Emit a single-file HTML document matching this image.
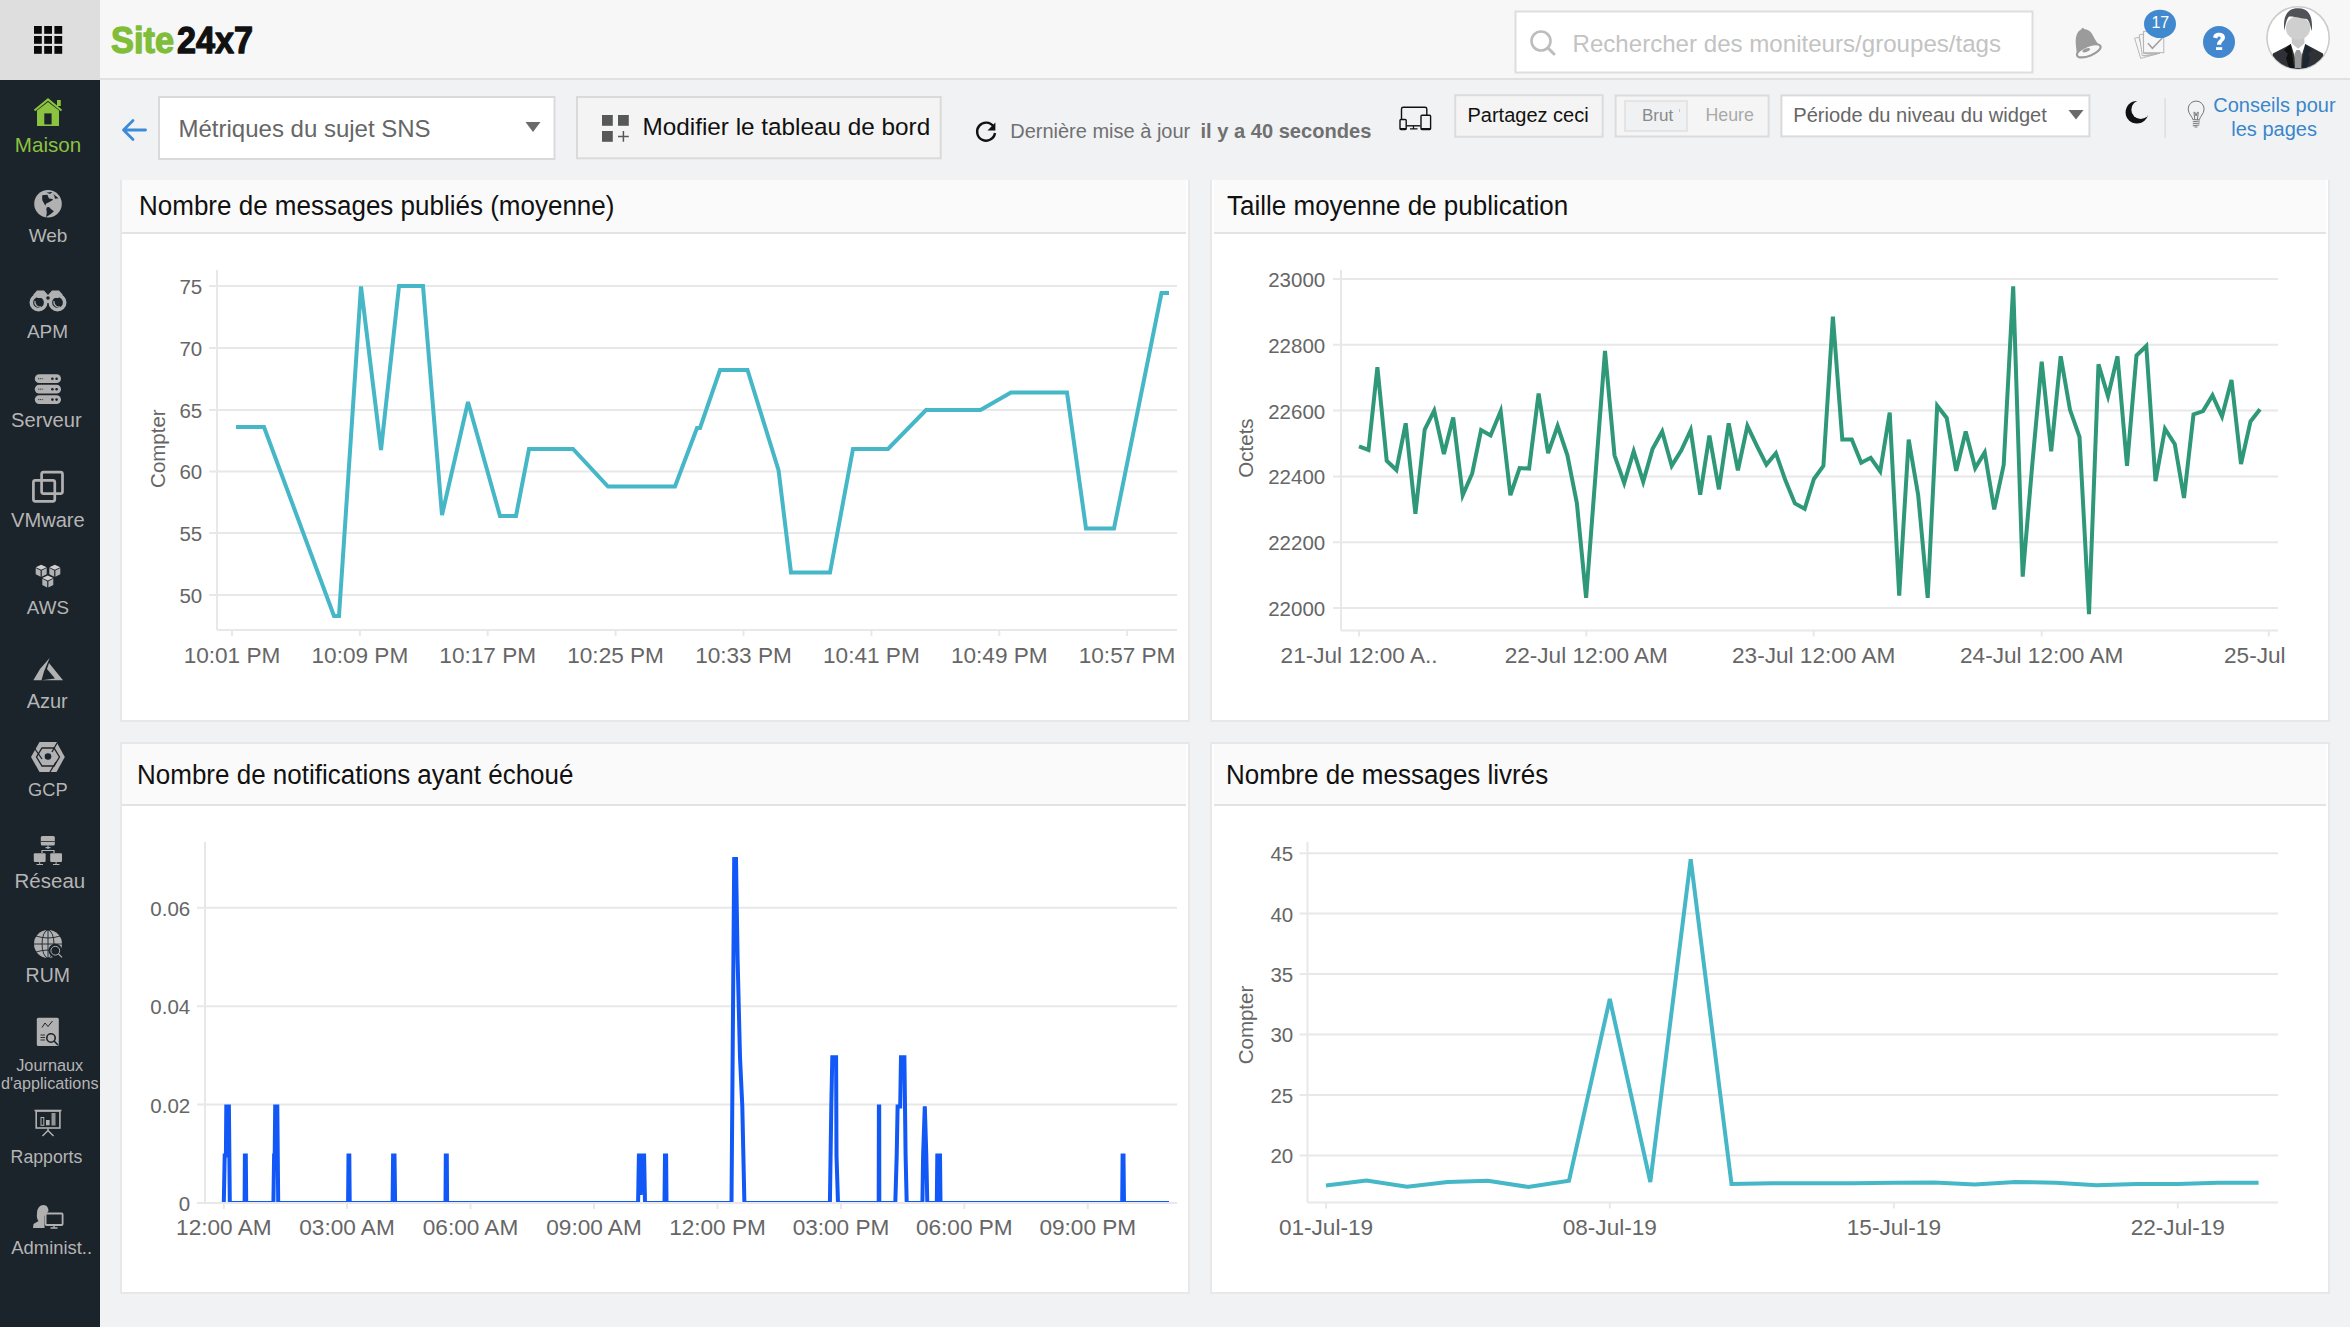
<!DOCTYPE html>
<html><head><meta charset="utf-8">
<style>
*{box-sizing:border-box;margin:0;padding:0}
html,body{width:2350px;height:1327px;overflow:hidden;background:#f1f2f4;font-family:"Liberation Sans", sans-serif}
.a{position:absolute}
.top{left:0;top:0;width:2350px;height:80px;background:#f7f7f7;border-bottom:2px solid #e2e2e2}
.gridbox{left:0;top:0;width:100px;height:80px;background:#dedede;border-bottom:2px solid #dedede}
.side{left:0;top:80px;width:100px;height:1247px;background:#1c242c}
.card{background:#fff;border:2px solid #e8e8e8}
.hdr{background:#fafafa;border-bottom:2px solid #e3e3e3}
.ttl{font-size:26px;transform:scaleY(1.035);transform-origin:0 0;color:#111;white-space:nowrap}
.sl{color:#b4b4b4;font-size:19.5px;text-align:center;width:100px;left:0;white-space:nowrap}
.btn{border:2px solid #dcdcdc}
</style></head><body>
<svg class="a" style="left:0;top:0" width="2350" height="1327" font-family='"Liberation Sans", sans-serif'>
<rect x="0" y="0" width="2350" height="78" fill="#f7f7f7"/>
<rect x="0" y="78" width="2350" height="2" fill="#e1e1e1"/>
<rect x="0" y="0" width="100" height="80" fill="#dedede"/>
<rect x="34.0" y="26.0" width="7.8" height="7.8" fill="#0a0a0a"/>
<rect x="34.0" y="36.0" width="7.8" height="7.8" fill="#0a0a0a"/>
<rect x="34.0" y="46.0" width="7.8" height="7.8" fill="#0a0a0a"/>
<rect x="44.2" y="26.0" width="7.8" height="7.8" fill="#0a0a0a"/>
<rect x="44.2" y="36.0" width="7.8" height="7.8" fill="#0a0a0a"/>
<rect x="44.2" y="46.0" width="7.8" height="7.8" fill="#0a0a0a"/>
<rect x="54.4" y="26.0" width="7.8" height="7.8" fill="#0a0a0a"/>
<rect x="54.4" y="36.0" width="7.8" height="7.8" fill="#0a0a0a"/>
<rect x="54.4" y="46.0" width="7.8" height="7.8" fill="#0a0a0a"/>
<text x="111" y="53" font-size="36" font-weight="700" fill="#80bd39" stroke="#80bd39" stroke-width="1.3" stroke-linejoin="round" textLength="63" lengthAdjust="spacingAndGlyphs">Site</text>
<text x="177" y="53" font-size="36" font-weight="700" fill="#111" stroke="#111" stroke-width="1.3" stroke-linejoin="round" textLength="76" lengthAdjust="spacingAndGlyphs">24x7</text>
<rect x="1515.5" y="11.5" width="517" height="61" fill="#fff" stroke="#dedede" stroke-width="2"/>
<circle cx="1541" cy="41" r="9.5" fill="none" stroke="#bdbdbd" stroke-width="2.6"/>
<line x1="1548" y1="48" x2="1554" y2="54" stroke="#bdbdbd" stroke-width="3" stroke-linecap="round"/>
<text x="1572.5" y="52.4" font-size="24.1" fill="#c3c3c3" text-anchor="start" >Rechercher des moniteurs/groupes/tags</text>
<path d="M2077,54.5 C2076.2,47 2075,41 2076.2,36.5 C2077.3,32 2079.5,29.8 2081.6,29.2 L2082,27.8 L2083.6,28.3 L2084.2,29 C2087,29.3 2089.8,30.5 2091.8,33.5 C2094,37 2095.5,41 2098.2,44 L2101.5,46 Z" fill="#9b9b9b"/>
<ellipse cx="2088.8" cy="50.8" rx="12.6" ry="5" transform="rotate(-22 2088.8 50.8)" fill="#f7f7f7" stroke="#9b9b9b" stroke-width="2.1"/>
<ellipse cx="2086.3" cy="50.2" rx="4" ry="1.7" transform="rotate(-22 2086.3 50.2)" fill="#9b9b9b"/>
<g fill="#f7f7f7" stroke="#b0b0b0" stroke-width="0.9"><path d="M2134.6,38.2 L2138.8,37.3 L2144,56 L2157,54 L2140.7,58.4 Z"/><path d="M2139.3,34.8 L2143.2,34 L2143.6,53.5 L2160,53.4 L2142.3,55.8 Z"/><rect x="2143.6" y="31.3" width="20.2" height="21.4"/></g>
<path d="M2148,43.2 L2152.4,48.3 L2162.2,38" fill="none" stroke="#a0a0a0" stroke-width="1.5"/>
<ellipse cx="2160" cy="23.9" rx="16" ry="14.2" fill="#4189cf"/>
<text x="2160.3" y="28" font-size="16" fill="#fff" text-anchor="middle" >17</text>
<circle cx="2219" cy="42" r="16" fill="#4388cf"/>
<path d="M2213.2,37.5 C2213.2,34.5 2215.5,32.8 2219,32.8 C2222.6,32.8 2225,34.8 2225,37.6 C2225,40.8 2221.5,41.3 2221.2,44.8 L2217,44.8 C2217,40.5 2220.6,39.8 2220.6,38 C2220.6,37 2220,36.5 2219,36.5 C2218,36.5 2217.4,37.2 2217.4,38.5 Z" fill="#fff"/>
<rect x="2216" y="47.2" width="6.2" height="2.8" fill="#fff"/>
<clipPath id="avc"><circle cx="2298.1" cy="37.9" r="31"/></clipPath>
<circle cx="2298.1" cy="37.9" r="31.1" fill="#fff" stroke="#cccccc" stroke-width="1.6"/>
<g clip-path="url(#avc)"><path d="M2272.9,53.6 L2290.9,44.1 L2298.1,49 L2305.2,44.1 L2323,53.6 L2326,72 L2270,72 Z" fill="#2e3236"/><path d="M2284,50 L2290.9,44.1 L2294,68 L2289,68 L2286,58 L2288,54 Z" fill="#111"/><path d="M2312,50 L2305.2,44.1 L2302,68 L2307,68 L2310,58 L2308,54 Z" fill="#1c2630"/><path d="M2290.9,44.1 L2305.2,44.1 L2298.1,67.6 Z" fill="#fff"/><path d="M2291.8,37 L2304.4,37 L2304.4,43.5 L2298.1,48.7 L2291.8,43.5 Z" fill="#c6c6c6"/><path d="M2296.5,50.1 L2299.7,50.1 L2301.8,54 L2301.2,68 L2295,68 L2294.4,54 Z" fill="#999"/><ellipse cx="2298" cy="28" rx="12.2" ry="11.8" fill="#cfcfcf"/><path d="M2284.3,30.5 C2283,20 2285,8.3 2298,8.3 C2310,8.3 2313,18 2311.8,31 C2310.5,27 2310,22 2307,19 C2302,19 2297,16.5 2289,16.6 C2286.5,19 2285.5,25 2284.3,30.5 Z" fill="#4f5358"/></g>
<rect x="0" y="80" width="100" height="1247" fill="#1b232b"/>
<path d="M34.5,110.5 L48,99.5 L61.5,110.5" fill="none" stroke="#8bc23f" stroke-width="2.2"/>
<path d="M37,110.5 L48,102 L59,110.5 L59,126 L37,126 Z" fill="#8bc23f"/>
<rect x="44.3" y="113.4" width="7.3" height="11" fill="#1b232b"/>
<rect x="57" y="100" width="3.8" height="6" fill="#8bc23f"/>
<text x="48" y="152.4" font-size="20.6" fill="#8bc23f" text-anchor="middle" >Maison</text>
<circle cx="48" cy="203.8" r="13.8" fill="#b1b1b1"/>
<path d="M42.2,195.2 L47.4,194.8 L49,198.5 L52.5,199 L52.8,200.1 L49,202.3 L46.3,203.4 L45.4,205 L46.5,206.2 L44.9,204.9 L44.1,203.4 L42.2,200.1 Z M53.3,194.1 L58.5,198.2 L55,198.8 L54.4,196.3 Z M46.8,207.2 L49,206.9 L51.2,209.3 L53.9,211.2 L51.2,213.7 L46.6,216.8 L46,217.8 L46.8,212.6 L46.3,209.1 Z M46.5,192.5 L52.5,192 L50,194 Z" fill="#1b232b"/>
<text x="48" y="241.8" font-size="19" fill="#b5b5b5" text-anchor="middle" >Web</text>
<g fill="none" stroke="#b1b1b1"><circle cx="38.5" cy="302.5" r="7.2" stroke-width="3.6"/><circle cx="57.5" cy="302.5" r="7.2" stroke-width="3.6"/></g>
<path d="M33,295 L37,290.5 L44,290.5 L48,295 L52,290.5 L59,290.5 L63,295 L58,298 L38,298 Z" fill="#b1b1b1"/>
<rect x="44" y="296" width="8" height="7" fill="#b1b1b1"/>
<circle cx="48" cy="298" r="1.8" fill="#1b232b"/>
<path d="M35,301 A5,5 0 0 0 41,307" fill="none" stroke="#b1b1b1" stroke-width="1.3"/>
<path d="M54,301 A5,5 0 0 0 60,307" fill="none" stroke="#b1b1b1" stroke-width="1.3"/>
<text x="47.5" y="338.2" font-size="19" fill="#b5b5b5" text-anchor="middle" >APM</text>
<rect x="34.8" y="374.3" width="26.2" height="8.8" rx="4.4" fill="#b1b1b1"/>
<circle cx="52.4" cy="378.7" r="1.3" fill="#1b232b"/><circle cx="56.6" cy="378.7" r="1.3" fill="#1b232b"/>
<line x1="38" y1="378.7" x2="43.5" y2="378.7" stroke="#1b232b" stroke-width="0.8" stroke-dasharray="1.2,0.6"/>
<rect x="34.8" y="384.8" width="26.2" height="8.8" rx="4.4" fill="#b1b1b1"/>
<circle cx="52.4" cy="389.2" r="1.3" fill="#1b232b"/><circle cx="56.6" cy="389.2" r="1.3" fill="#1b232b"/>
<line x1="38" y1="389.2" x2="43.5" y2="389.2" stroke="#1b232b" stroke-width="0.8" stroke-dasharray="1.2,0.6"/>
<rect x="34.8" y="395.2" width="26.2" height="8.8" rx="4.4" fill="#b1b1b1"/>
<circle cx="52.4" cy="399.59999999999997" r="1.3" fill="#1b232b"/><circle cx="56.6" cy="399.59999999999997" r="1.3" fill="#1b232b"/>
<line x1="38" y1="399.59999999999997" x2="43.5" y2="399.59999999999997" stroke="#1b232b" stroke-width="0.8" stroke-dasharray="1.2,0.6"/>
<text x="46.4" y="426.6" font-size="20.2" fill="#b5b5b5" text-anchor="middle" >Serveur</text>
<rect x="41.6" y="472.2" width="20.9" height="21.4" rx="2" fill="none" stroke="#b1b1b1" stroke-width="2.7"/>
<rect x="33.4" y="480.3" width="21.4" height="21" rx="2" fill="none" stroke="#b1b1b1" stroke-width="2.7"/>
<text x="47.9" y="526.9" font-size="20.1" fill="#b5b5b5" text-anchor="middle" >VMware</text>
<path d="M35.7,567.2 L41.2,564.7 L46.7,567.2 L41.2,569.7 Z" fill="#d0d0d0"/><path d="M35.7,568.0 L40.6,570.5 L40.6,576.7 L35.7,574.2 Z" fill="#b1b1b1"/><path d="M46.7,568.0 L41.800000000000004,570.5 L41.800000000000004,576.7 L46.7,574.2 Z" fill="#b1b1b1"/>
<path d="M49.3,567.2 L54.8,564.7 L60.3,567.2 L54.8,569.7 Z" fill="#d0d0d0"/><path d="M49.3,568.0 L54.199999999999996,570.5 L54.199999999999996,576.7 L49.3,574.2 Z" fill="#b1b1b1"/><path d="M60.3,568.0 L55.4,570.5 L55.4,576.7 L60.3,574.2 Z" fill="#b1b1b1"/>
<path d="M42.3,578.0 L47.8,575.5 L53.3,578.0 L47.8,580.5 Z" fill="#d0d0d0"/><path d="M42.3,578.8 L47.199999999999996,581.3 L47.199999999999996,587.5 L42.3,585.0 Z" fill="#b1b1b1"/><path d="M53.3,578.8 L48.4,581.3 L48.4,587.5 L53.3,585.0 Z" fill="#b1b1b1"/>
<text x="47.9" y="614.2" font-size="18.8" fill="#b5b5b5" text-anchor="middle" >AWS</text>
<path d="M33.3,680.2 L40,669 L49.6,658 L44,671.5 L41.5,680.2 Z M49,663 L63,680.2 L41.5,680.2 L55,678.5 L47,669 Z" fill="#b1b1b1"/>
<text x="47.2" y="708.4" font-size="20" fill="#b5b5b5" text-anchor="middle" >Azur</text>
<path d="M39.5,742 L56.5,742 L64.8,757 L56.5,772 L39.5,772 L31,757 Z" fill="#b1b1b1"/>
<path d="M42,748 L54,748 L59.5,757 L54,766 L42,766 L36.5,757 Z" fill="none" stroke="#1b232b" stroke-width="1.3"/>
<path d="M35,749 L42,759 M57,743 L52,752 M50,772 L56,762" stroke="#1b232b" stroke-width="1.3"/>
<circle cx="48" cy="756.5" r="3.3" fill="#1b232b"/>
<text x="47.9" y="796.1" font-size="18.3" fill="#b5b5b5" text-anchor="middle" >GCP</text>
<rect x="40.8" y="836" width="14" height="9.5" rx="1.5" fill="#b1b1b1"/>
<line x1="40.8" y1="841.5" x2="54.8" y2="841.5" stroke="#1b232b" stroke-width="0.8"/>
<path d="M48,845.5 V849 M42,853 V850.5 H54 V853 M45.5,847.7 H50.5" fill="none" stroke="#b1b1b1" stroke-width="1.2"/>
<rect x="33.8" y="853.3" width="11.8" height="8.6" rx="1" fill="#b1b1b1"/>
<rect x="50.2" y="853.3" width="11.8" height="8.6" rx="1" fill="#b1b1b1"/>
<path d="M39.7,862 V864.5 M36.5,864.5 H43 M56.1,862 V864.5 M53,864.5 H59.5" stroke="#b1b1b1" stroke-width="1"/>
<text x="49.9" y="888.2" font-size="20.5" fill="#b5b5b5" text-anchor="middle" >Réseau</text>
<circle cx="48" cy="944" r="14" fill="#b1b1b1"/>
<g fill="none" stroke="#1b232b" stroke-width="0.9"><ellipse cx="48" cy="944" rx="6" ry="14"/><line x1="48" y1="930" x2="48" y2="958"/><line x1="34" y1="944" x2="62" y2="944"/><path d="M36,936 Q48,940 60,936 M36,952 Q48,948 60,952"/></g>
<circle cx="55.3" cy="950.7" r="5.6" fill="#1b232b" stroke="#1b232b" stroke-width="2.5"/>
<circle cx="55.3" cy="950.7" r="4.4" fill="none" stroke="#b1b1b1" stroke-width="1"/>
<line x1="58.6" y1="954" x2="62" y2="957.4" stroke="#b1b1b1" stroke-width="1.2"/>
<text x="47.8" y="982" font-size="19.5" fill="#b5b5b5" text-anchor="middle" >RUM</text>
<rect x="36.8" y="1017.7" width="22" height="28.3" rx="1.5" fill="#b1b1b1"/>
<path d="M42,1027.5 L45,1023 L48,1026.5 L52.5,1021" fill="none" stroke="#1b232b" stroke-width="1"/>
<path d="M40.5,1035 H45 M40.5,1037.5 H45 M40.5,1040 H45" stroke="#1b232b" stroke-width="0.9"/>
<circle cx="51" cy="1038" r="4.2" fill="none" stroke="#1b232b" stroke-width="1.6"/>
<line x1="54" y1="1041" x2="58" y2="1045" stroke="#1b232b" stroke-width="1.6"/>
<text x="49.7" y="1070.8" font-size="16.3" fill="#b5b5b5" text-anchor="middle" >Journaux</text>
<text x="49.7" y="1089.3" font-size="16.2" fill="#b5b5b5" text-anchor="middle" >d&#39;applications</text>
<path d="M34.5,1110.5 H61.5" stroke="#b1b1b1" stroke-width="1.6"/>
<rect x="36.2" y="1111" width="23.7" height="17" fill="none" stroke="#b1b1b1" stroke-width="1.6"/>
<rect x="41" y="1117.5" width="2.8" height="7.8" fill="none" stroke="#b1b1b1" stroke-width="1"/>
<rect x="46" y="1120" width="3.6" height="5.3" fill="#b1b1b1"/>
<rect x="51.5" y="1113" width="4" height="12.5" fill="#b1b1b1" opacity="0.8"/>
<path d="M48,1128.5 V1131 M48,1130.5 L42.5,1136 M48,1130.5 L53.5,1136" stroke="#b1b1b1" stroke-width="1.5"/>
<text x="46.5" y="1162.8" font-size="17.7" fill="#b5b5b5" text-anchor="middle" >Rapports</text>
<path d="M33,1228 L33.5,1224 L38.5,1221 C37,1219 36.5,1216.5 37,1213.5 C37,1208 40,1205 43.5,1205 C47,1205 48.5,1208 48.5,1211 L44.5,1216 L44.5,1228 Z" fill="#b1b1b1"/>
<rect x="45.6" y="1213.5" width="17" height="11.5" rx="1" fill="#1b232b" stroke="#b1b1b1" stroke-width="1.8"/>
<path d="M54,1225 V1227.5 M50.5,1228 H57.5" stroke="#b1b1b1" stroke-width="1.4"/>
<text x="51.7" y="1254" font-size="18.4" fill="#b5b5b5" text-anchor="middle" >Administ..</text>
<path d="M145.5,130 H124 M133,120.5 L123.5,130 L133,139.5" fill="none" stroke="#3d8bd6" stroke-width="2.8" stroke-linecap="round" stroke-linejoin="round"/>
<rect x="159" y="97" width="395.5" height="62" fill="#fff" stroke="#dadada" stroke-width="2"/>
<text x="178.5" y="137" font-size="24" fill="#666" text-anchor="start" >Métriques du sujet SNS</text>
<path d="M525.5,122 L540.5,122 L533,132 Z" fill="#6a6a6a"/>
<rect x="577" y="97" width="363.7" height="61.3" fill="#f4f4f4" stroke="#dadada" stroke-width="2"/>
<g fill="#575958"><rect x="602" y="115" width="10.8" height="10.8"/><rect x="618" y="115" width="10.8" height="10.8"/><rect x="602" y="131" width="10.8" height="10.8"/></g>
<path d="M623.4,131 V141.8 M618,136.4 H628.8" stroke="#575958" stroke-width="1.5"/>
<text x="642.5" y="135.3" font-size="24.3" fill="#111" text-anchor="start" >Modifier le tableau de bord</text>
<path d="M993.5,126.5 A9,9 0 1 0 995,133" fill="none" stroke="#111" stroke-width="2.4"/>
<path d="M995.4,122.5 L995.4,130.5 L987.5,130.5 Z" fill="#111"/>
<text x="1010.2" y="138.4" font-size="20" fill="#707070" text-anchor="start" >Dernière mise à jour</text>
<text x="1200.5" y="138.4" font-size="20.1" fill="#707070" text-anchor="start" font-weight="700" >il y a 40 secondes</text>
<g fill="none" stroke="#111" stroke-width="1.4"><path d="M1401.5,119 V109 Q1401.5,107.3 1403.3,107.3 H1425 Q1426.8,107.3 1426.8,109 V115"/><line x1="1406.5" y1="125.8" x2="1420.5" y2="125.8"/><rect x="1400" y="119.5" width="6.2" height="10" rx="1"/><rect x="1421" y="115.3" width="9.6" height="14.2" rx="1"/></g>
<path d="M1413.5,126 V128.4 M1410,128.8 H1417.5" stroke="#111" stroke-width="1.2"/>
<rect x="1400" y="128" width="6.2" height="1.6" fill="#111"/><rect x="1421" y="128" width="9.6" height="1.6" fill="#111"/>
<rect x="1455.2" y="95.2" width="147.5" height="41.5" fill="#f4f4f4" stroke="#dcdcdc" stroke-width="2"/>
<text x="1467.5" y="122" font-size="20" fill="#111" text-anchor="start" >Partagez ceci</text>
<rect x="1615.6" y="95.5" width="153" height="41" fill="#f5f5f6" stroke="#dcdcdc" stroke-width="2"/>
<rect x="1625" y="101" width="62" height="30" fill="#f0f1f3" stroke="#e2e2e2" stroke-width="1.6"/>
<text x="1642" y="121" font-size="17" fill="#8a8a8a" text-anchor="start" >Brut</text>
<line x1="1679.5" y1="109" x2="1679.5" y2="112" stroke="#bbb" stroke-width="0.8"/>
<text x="1705.5" y="121" font-size="17.8" fill="#a9a9a9" text-anchor="start" >Heure</text>
<rect x="1781.4" y="95.4" width="308" height="41" fill="#fff" stroke="#dadada" stroke-width="2"/>
<text x="1793.3" y="122.2" font-size="20.1" fill="#666" text-anchor="start" >Période du niveau du widget</text>
<path d="M2068.5,110 L2083.5,110 L2076,119.5 Z" fill="#6a6a6a"/>
<circle cx="2136.9" cy="112.2" r="11.3" fill="#111"/>
<circle cx="2140.7" cy="109.7" r="9.35" fill="#f1f2f4"/>
<rect x="2164.3" y="98" width="1.6" height="39.7" fill="#dedede"/>
<g fill="none" stroke="#777" stroke-width="1"><path d="M2192.9,119.7 C2192.5,116.5 2188.2,114 2188.2,109 A7.95,7.95 0 1 1 2204.1,109 C2204.1,114 2199.8,116.5 2199.5,119.7 Z"/><path d="M2192.8,121.8 L2199.8,121 M2192.8,123.8 L2199.8,123 M2192.8,125.8 L2199.3,125 M2194.5,127 L2197.5,127 M2194.8,119.5 L2193.9,112.3 L2194.9,112.3 L2196.1,116 L2197.3,112.3 L2198.3,112.3 L2197.4,119.5"/></g>
<text x="2213.3" y="111.8" font-size="20" fill="#3a86cb" text-anchor="start" >Conseils pour</text>
<text x="2231.3" y="135.8" font-size="20" fill="#3a86cb" text-anchor="start" >les pages</text>
</svg>

<!-- cards -->
<div class="a card" style="left:120px;top:180px;width:1070px;height:542px;border-top:none"></div>
<div class="a hdr" style="left:122px;top:180px;width:1064px;height:54px"></div>
<div class="a card" style="left:1210px;top:180px;width:1120px;height:542px;border-top:none"></div>
<div class="a hdr" style="left:1214px;top:180px;width:1112px;height:54px"></div>
<div class="a card" style="left:120px;top:742px;width:1070px;height:552px"></div>
<div class="a hdr" style="left:122px;top:744px;width:1064px;height:62px"></div>
<div class="a card" style="left:1210px;top:742px;width:1120px;height:552px"></div>
<div class="a hdr" style="left:1214px;top:744px;width:1112px;height:62px"></div>

<div class="a ttl" style="left:139px;top:189.8px">Nombre de messages publiés (moyenne)</div>
<div class="a ttl" style="left:1227px;top:189.8px">Taille moyenne de publication</div>
<div class="a ttl" style="left:137px;top:758.8px">Nombre de notifications ayant échoué</div>
<div class="a ttl" style="left:1226px;top:758.8px">Nombre de messages livrés</div>

<svg class="a" style="left:0;top:0" width="2350" height="1327" font-family='"Liberation Sans", sans-serif'>
<line x1="209" y1="286" x2="1177" y2="286" stroke="#e8e8e8" stroke-width="2"/>
<line x1="209" y1="348" x2="1177" y2="348" stroke="#e8e8e8" stroke-width="2"/>
<line x1="209" y1="410" x2="1177" y2="410" stroke="#e8e8e8" stroke-width="2"/>
<line x1="209" y1="471.5" x2="1177" y2="471.5" stroke="#e8e8e8" stroke-width="2"/>
<line x1="209" y1="533" x2="1177" y2="533" stroke="#e8e8e8" stroke-width="2"/>
<line x1="209" y1="595" x2="1177" y2="595" stroke="#e8e8e8" stroke-width="2"/>
<line x1="217" y1="270" x2="217" y2="630" stroke="#e8e8e8" stroke-width="2"/>
<line x1="217" y1="630" x2="1177" y2="630" stroke="#e8e8e8" stroke-width="2"/>
<line x1="232" y1="630" x2="232" y2="636" stroke="#e8e8e8" stroke-width="2"/>
<line x1="359.9" y1="630" x2="359.9" y2="636" stroke="#e8e8e8" stroke-width="2"/>
<line x1="487.7" y1="630" x2="487.7" y2="636" stroke="#e8e8e8" stroke-width="2"/>
<line x1="615.6" y1="630" x2="615.6" y2="636" stroke="#e8e8e8" stroke-width="2"/>
<line x1="743.5" y1="630" x2="743.5" y2="636" stroke="#e8e8e8" stroke-width="2"/>
<line x1="871.4" y1="630" x2="871.4" y2="636" stroke="#e8e8e8" stroke-width="2"/>
<line x1="999.3" y1="630" x2="999.3" y2="636" stroke="#e8e8e8" stroke-width="2"/>
<line x1="1127.1" y1="630" x2="1127.1" y2="636" stroke="#e8e8e8" stroke-width="2"/>
<text x="202.2" y="293.9" text-anchor="end" font-size="20.5" fill="#666666">75</text>
<text x="202.2" y="355.9" text-anchor="end" font-size="20.5" fill="#666666">70</text>
<text x="202.2" y="417.9" text-anchor="end" font-size="20.5" fill="#666666">65</text>
<text x="202.2" y="479.4" text-anchor="end" font-size="20.5" fill="#666666">60</text>
<text x="202.2" y="540.9" text-anchor="end" font-size="20.5" fill="#666666">55</text>
<text x="202.2" y="602.9" text-anchor="end" font-size="20.5" fill="#666666">50</text>
<text x="232" y="663" text-anchor="middle" font-size="22.6" fill="#666666">10:01 PM</text>
<text x="359.9" y="663" text-anchor="middle" font-size="22.6" fill="#666666">10:09 PM</text>
<text x="487.7" y="663" text-anchor="middle" font-size="22.6" fill="#666666">10:17 PM</text>
<text x="615.6" y="663" text-anchor="middle" font-size="22.6" fill="#666666">10:25 PM</text>
<text x="743.5" y="663" text-anchor="middle" font-size="22.6" fill="#666666">10:33 PM</text>
<text x="871.4" y="663" text-anchor="middle" font-size="22.6" fill="#666666">10:41 PM</text>
<text x="999.3" y="663" text-anchor="middle" font-size="22.6" fill="#666666">10:49 PM</text>
<text x="1127.1" y="663" text-anchor="middle" font-size="22.6" fill="#666666">10:57 PM</text>
<text x="165" y="448.6" transform="rotate(-90 165 448.6)" text-anchor="middle" font-size="20.5" fill="#666666">Compter</text>
<polyline points="236.0,427.0 264.0,427.0 334.0,616.0 339.0,616.0 361.0,286.5 381.0,450.0 399.0,286.0 423.0,286.0 442.0,515.0 468.0,402.0 500.0,516.0 516.0,516.0 529.0,449.0 573.0,449.0 608.0,486.5 675.0,486.5 697.0,428.0 700.0,428.0 720.0,370.0 747.5,370.0 778.6,470.5 791.0,572.6 830.0,572.6 853.0,449.0 888.0,449.0 926.0,410.0 980.5,410.0 1011.0,392.6 1067.0,392.6 1086.0,528.5 1114.0,528.5 1161.5,293.0 1169.0,293.0" fill="none" stroke="#45b7c6" stroke-width="4"/>
<line x1="1333" y1="279" x2="2278" y2="279" stroke="#e8e8e8" stroke-width="2"/>
<line x1="1333" y1="344.8" x2="2278" y2="344.8" stroke="#e8e8e8" stroke-width="2"/>
<line x1="1333" y1="410.6" x2="2278" y2="410.6" stroke="#e8e8e8" stroke-width="2"/>
<line x1="1333" y1="476.4" x2="2278" y2="476.4" stroke="#e8e8e8" stroke-width="2"/>
<line x1="1333" y1="542.2" x2="2278" y2="542.2" stroke="#e8e8e8" stroke-width="2"/>
<line x1="1333" y1="608" x2="2278" y2="608" stroke="#e8e8e8" stroke-width="2"/>
<line x1="1341" y1="270" x2="1341" y2="630.5" stroke="#e8e8e8" stroke-width="2"/>
<line x1="1341" y1="630.5" x2="2278" y2="630.5" stroke="#e8e8e8" stroke-width="2"/>
<line x1="1359.1" y1="630.5" x2="1359.1" y2="636.5" stroke="#e8e8e8" stroke-width="2"/>
<line x1="1586.3" y1="630.5" x2="1586.3" y2="636.5" stroke="#e8e8e8" stroke-width="2"/>
<line x1="1813.7" y1="630.5" x2="1813.7" y2="636.5" stroke="#e8e8e8" stroke-width="2"/>
<line x1="2041.7" y1="630.5" x2="2041.7" y2="636.5" stroke="#e8e8e8" stroke-width="2"/>
<line x1="2268.8" y1="630.5" x2="2268.8" y2="636.5" stroke="#e8e8e8" stroke-width="2"/>
<text x="1325.2" y="286.9" text-anchor="end" font-size="20.5" fill="#666666">23000</text>
<text x="1325.2" y="352.7" text-anchor="end" font-size="20.5" fill="#666666">22800</text>
<text x="1325.2" y="418.5" text-anchor="end" font-size="20.5" fill="#666666">22600</text>
<text x="1325.2" y="484.3" text-anchor="end" font-size="20.5" fill="#666666">22400</text>
<text x="1325.2" y="550.1" text-anchor="end" font-size="20.5" fill="#666666">22200</text>
<text x="1325.2" y="615.9" text-anchor="end" font-size="20.5" fill="#666666">22000</text>
<text x="1359.1" y="663" text-anchor="middle" font-size="22.6" fill="#666666">21-Jul 12:00 A..</text>
<text x="1586.3" y="663" text-anchor="middle" font-size="22.6" fill="#666666">22-Jul 12:00 AM</text>
<text x="1813.7" y="663" text-anchor="middle" font-size="22.6" fill="#666666">23-Jul 12:00 AM</text>
<text x="2041.7" y="663" text-anchor="middle" font-size="22.6" fill="#666666">24-Jul 12:00 AM</text>
<text x="2224" y="663" font-size="22.6" fill="#666666">25-Jul</text>
<text x="1252.5" y="448" transform="rotate(-90 1252.5 448)" text-anchor="middle" font-size="20.5" fill="#666666">Octets</text>
<polyline points="1359.0,446.4 1368.5,449.9 1377.4,367.1 1386.7,460.8 1396.4,470.0 1405.7,423.3 1415.4,513.7 1424.7,429.6 1434.2,410.6 1443.9,454.0 1453.2,417.4 1462.7,495.2 1472.2,473.5 1481.1,430.1 1490.6,435.5 1500.7,411.1 1510.4,495.2 1519.6,468.1 1529.1,468.6 1538.6,393.5 1548.1,453.2 1557.6,426.0 1567.4,455.3 1576.9,503.4 1586.1,597.8 1605.0,350.9 1614.5,455.3 1624.2,483.0 1633.7,451.3 1643.2,481.7 1652.5,449.1 1662.2,431.5 1671.7,465.9 1681.2,450.5 1690.7,430.1 1700.2,494.7 1709.4,435.5 1718.9,489.3 1728.7,423.3 1737.9,470.3 1747.4,426.0 1756.9,445.8 1766.4,464.6 1775.9,453.2 1785.4,480.3 1794.9,503.4 1804.7,508.8 1813.9,479.0 1823.4,465.9 1832.9,316.7 1842.3,439.6 1851.8,439.6 1861.2,462.7 1870.7,457.8 1880.2,471.4 1889.7,412.5 1899.2,595.6 1908.7,439.6 1918.2,495.2 1927.7,597.8 1937.2,405.7 1946.7,417.9 1956.2,470.8 1965.7,431.5 1975.2,468.1 1984.7,452.4 1994.2,509.3 2003.7,464.8 2013.2,286.3 2022.7,576.6 2032.2,465.4 2041.7,361.7 2051.2,451.3 2060.7,356.3 2070.0,409.8 2079.5,436.9 2089.0,614.1 2098.5,364.4 2108.0,396.2 2117.5,356.3 2127.0,465.9 2136.5,355.5 2146.3,346.0 2155.5,481.1 2165.0,428.8 2174.8,444.2 2184.0,498.0 2193.5,414.4 2203.0,411.1 2212.5,395.4 2222.0,416.5 2231.5,379.9 2241.0,464.0 2250.5,421.4 2260.0,409.2" fill="none" stroke="#2e9878" stroke-width="4"/>
<line x1="197" y1="907.8" x2="1177" y2="907.8" stroke="#e8e8e8" stroke-width="2"/>
<line x1="197" y1="1006.2" x2="1177" y2="1006.2" stroke="#e8e8e8" stroke-width="2"/>
<line x1="197" y1="1104.6" x2="1177" y2="1104.6" stroke="#e8e8e8" stroke-width="2"/>
<line x1="197" y1="1203" x2="1177" y2="1203" stroke="#e8e8e8" stroke-width="2"/>
<line x1="205" y1="842" x2="205" y2="1203" stroke="#e8e8e8" stroke-width="2"/>
<line x1="205" y1="1203" x2="1177" y2="1203" stroke="#e8e8e8" stroke-width="2"/>
<line x1="223.8" y1="1203" x2="223.8" y2="1209" stroke="#e8e8e8" stroke-width="2"/>
<line x1="347" y1="1203" x2="347" y2="1209" stroke="#e8e8e8" stroke-width="2"/>
<line x1="470.5" y1="1203" x2="470.5" y2="1209" stroke="#e8e8e8" stroke-width="2"/>
<line x1="594" y1="1203" x2="594" y2="1209" stroke="#e8e8e8" stroke-width="2"/>
<line x1="717.5" y1="1203" x2="717.5" y2="1209" stroke="#e8e8e8" stroke-width="2"/>
<line x1="841" y1="1203" x2="841" y2="1209" stroke="#e8e8e8" stroke-width="2"/>
<line x1="964.3" y1="1203" x2="964.3" y2="1209" stroke="#e8e8e8" stroke-width="2"/>
<line x1="1087.8" y1="1203" x2="1087.8" y2="1209" stroke="#e8e8e8" stroke-width="2"/>
<text x="190.2" y="915.7" text-anchor="end" font-size="20.5" fill="#666666">0.06</text>
<text x="190.2" y="1014.1" text-anchor="end" font-size="20.5" fill="#666666">0.04</text>
<text x="190.2" y="1112.5" text-anchor="end" font-size="20.5" fill="#666666">0.02</text>
<text x="190.2" y="1210.9" text-anchor="end" font-size="20.5" fill="#666666">0</text>
<text x="223.8" y="1235" text-anchor="middle" font-size="22.6" fill="#666666">12:00 AM</text>
<text x="347" y="1235" text-anchor="middle" font-size="22.6" fill="#666666">03:00 AM</text>
<text x="470.5" y="1235" text-anchor="middle" font-size="22.6" fill="#666666">06:00 AM</text>
<text x="594" y="1235" text-anchor="middle" font-size="22.6" fill="#666666">09:00 AM</text>
<text x="717.5" y="1235" text-anchor="middle" font-size="22.6" fill="#666666">12:00 PM</text>
<text x="841" y="1235" text-anchor="middle" font-size="22.6" fill="#666666">03:00 PM</text>
<text x="964.3" y="1235" text-anchor="middle" font-size="22.6" fill="#666666">06:00 PM</text>
<text x="1087.8" y="1235" text-anchor="middle" font-size="22.6" fill="#666666">09:00 PM</text>
<clipPath id="cp3"><rect x="205" y="830" width="975" height="371.9"/></clipPath>
<polyline clip-path="url(#cp3)" points="222.0,1203.0 223.8,1203.0 224.7,1155.6 225.9,1155.6 226.3,1106.4 228.9,1106.4 229.8,1203.0 244.6,1203.0 244.9,1155.6 245.8,1155.6 246.2,1203.0 273.4,1203.0 274.1,1155.6 274.7,1155.6 275.2,1106.4 277.3,1106.4 278.2,1203.0 348.1,1203.0 348.5,1155.6 349.3,1155.6 349.7,1203.0 392.6,1203.0 393.1,1155.6 394.5,1155.6 395.1,1203.0 445.5,1203.0 445.8,1155.6 446.8,1155.6 447.1,1203.0 638.1,1203.0 638.9,1155.6 640.1,1155.6 640.7,1195.0 641.4,1155.6 644.1,1155.6 645.0,1203.0 664.5,1203.0 665.0,1155.6 666.1,1155.6 666.5,1203.0 731.5,1203.0 734.2,858.9 736.0,858.9 737.6,958.8 740.0,1057.2 742.3,1106.4 744.4,1203.0 829.9,1203.0 831.3,1106.4 832.3,1057.2 836.1,1057.2 836.5,1155.6 838.0,1203.0 878.7,1203.0 878.9,1106.4 879.2,1106.4 879.3,1203.0 895.3,1203.0 896.7,1155.6 897.6,1106.4 900.2,1106.4 901.0,1057.2 904.4,1057.2 905.6,1155.6 906.7,1203.0 922.4,1203.0 923.1,1155.6 924.8,1106.4 926.3,1155.6 927.3,1203.0 936.8,1203.0 937.3,1155.6 940.0,1155.6 940.5,1203.0 1122.2,1203.0 1122.6,1155.6 1123.5,1155.6 1124.0,1203.0 1169.0,1203.0" fill="none" stroke="#1158f7" stroke-width="4"/>
<line x1="1299.5" y1="853.2" x2="2278" y2="853.2" stroke="#e8e8e8" stroke-width="2"/>
<line x1="1299.5" y1="913.6" x2="2278" y2="913.6" stroke="#e8e8e8" stroke-width="2"/>
<line x1="1299.5" y1="974" x2="2278" y2="974" stroke="#e8e8e8" stroke-width="2"/>
<line x1="1299.5" y1="1034.5" x2="2278" y2="1034.5" stroke="#e8e8e8" stroke-width="2"/>
<line x1="1299.5" y1="1094.9" x2="2278" y2="1094.9" stroke="#e8e8e8" stroke-width="2"/>
<line x1="1299.5" y1="1155.5" x2="2278" y2="1155.5" stroke="#e8e8e8" stroke-width="2"/>
<line x1="1307.5" y1="842" x2="1307.5" y2="1202.5" stroke="#e8e8e8" stroke-width="2"/>
<line x1="1307.5" y1="1202.5" x2="2278" y2="1202.5" stroke="#e8e8e8" stroke-width="2"/>
<line x1="1326" y1="1202.5" x2="1326" y2="1208.5" stroke="#e8e8e8" stroke-width="2"/>
<line x1="1609.8" y1="1202.5" x2="1609.8" y2="1208.5" stroke="#e8e8e8" stroke-width="2"/>
<line x1="1893.9" y1="1202.5" x2="1893.9" y2="1208.5" stroke="#e8e8e8" stroke-width="2"/>
<line x1="2177.8" y1="1202.5" x2="2177.8" y2="1208.5" stroke="#e8e8e8" stroke-width="2"/>
<text x="1293.2" y="861.1" text-anchor="end" font-size="20.5" fill="#666666">45</text>
<text x="1293.2" y="921.5" text-anchor="end" font-size="20.5" fill="#666666">40</text>
<text x="1293.2" y="981.9" text-anchor="end" font-size="20.5" fill="#666666">35</text>
<text x="1293.2" y="1042.4" text-anchor="end" font-size="20.5" fill="#666666">30</text>
<text x="1293.2" y="1102.8" text-anchor="end" font-size="20.5" fill="#666666">25</text>
<text x="1293.2" y="1163.4" text-anchor="end" font-size="20.5" fill="#666666">20</text>
<text x="1326" y="1235" text-anchor="middle" font-size="22.6" fill="#666666">01-Jul-19</text>
<text x="1609.8" y="1235" text-anchor="middle" font-size="22.6" fill="#666666">08-Jul-19</text>
<text x="1893.9" y="1235" text-anchor="middle" font-size="22.6" fill="#666666">15-Jul-19</text>
<text x="2177.8" y="1235" text-anchor="middle" font-size="22.6" fill="#666666">22-Jul-19</text>
<text x="1253" y="1025" transform="rotate(-90 1253 1025)" text-anchor="middle" font-size="20.5" fill="#666666">Compter</text>
<polyline points="1326.0,1185.4 1366.5,1180.4 1407.0,1186.7 1447.7,1182.0 1487.8,1180.7 1528.3,1187.0 1569.0,1180.7 1609.8,999.0 1650.3,1182.0 1690.7,859.2 1731.5,1184.0 1772.0,1183.3 1812.6,1183.3 1853.1,1183.3 1893.7,1182.8 1934.2,1182.5 1974.8,1184.6 2015.3,1182.0 2055.8,1182.8 2096.4,1185.2 2136.9,1184.1 2177.5,1184.1 2218.0,1182.8 2258.6,1182.8" fill="none" stroke="#45b7c6" stroke-width="4"/>
</svg>
</body></html>
